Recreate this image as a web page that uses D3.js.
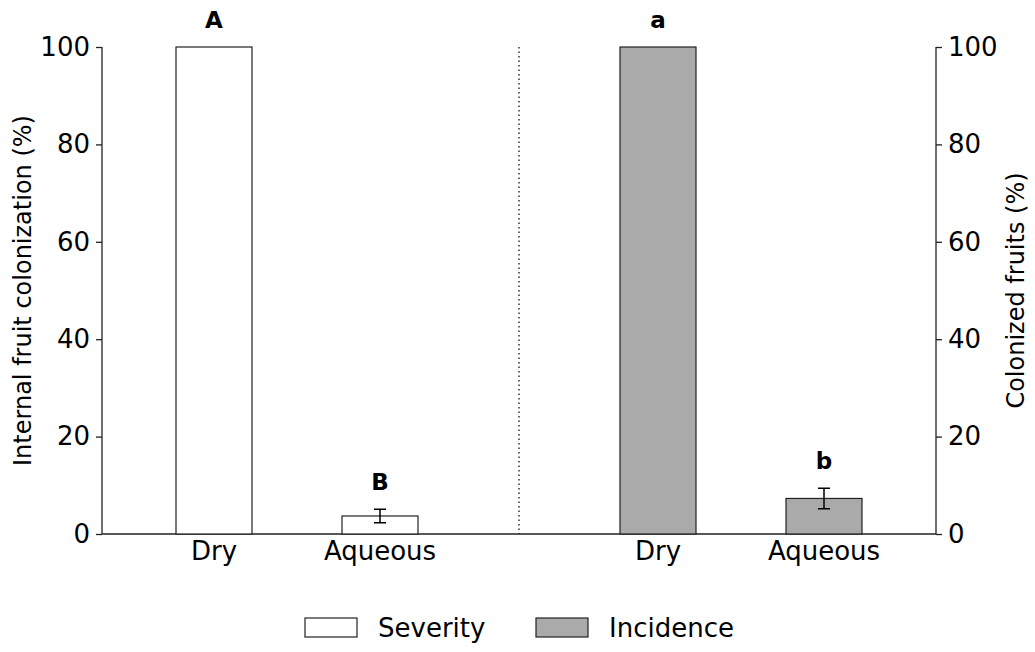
<!DOCTYPE html>
<html>
<head>
<meta charset="utf-8">
<script src="https://cdn.jsdelivr.net/npm/d3@7"></script>
<style>
  body { margin: 0; background: #fff; }
  svg { font-family: "DejaVu Sans", sans-serif; }
</style>
</head>
<body>
<svg id="chart" width="1035" height="652"></svg>
<script>
// data
const treatments = ['Dry', 'Aqueous'];
const groups = ['Severity', 'Incidence'];
const severity = [100, 3.7];
const severityErr = [0, 1.4];
const severityLetters = ['A', 'B'];
const incidence = [100, 7.3];
const incidenceErr = [0, 2.1];
const incidenceLetters = ['a', 'b'];
const yTicks = [0, 20, 40, 60, 80, 100];

const colors = { Severity: '#ffffff', Incidence: '#aaaaaa' };
const ink = '#222';

const svg = d3.select('#chart');
const m = { left: 102, right: 936, top: 47, bottom: 534 };

const y = d3.scaleLinear().domain([0, 100]).range([m.bottom, m.top]);
// each pair of bars sits 195px in from its own axis
const xg = d3.scalePoint().domain(groups).range([m.left + 195, m.right - 195]);
const xi = d3.scalePoint().domain(treatments).range([-83, 83]);
const barW = 76;

const series = [
	{ group: 'Severity', values: severity, err: severityErr, letters: severityLetters },
	{ group: 'Incidence', values: incidence, err: incidenceErr, letters: incidenceLetters }
];

// axes
const yLeft = svg.append('g')
	.attr('transform', `translate(${m.left},0)`)
	.call(d3.axisLeft(y).tickValues(yTicks).tickSize(6).tickPadding(6));
const yRight = svg.append('g')
	.attr('transform', `translate(${m.right},0)`)
	.call(d3.axisRight(y).tickValues(yTicks).tickSize(6).tickPadding(6));
[yLeft, yRight].forEach(ax => {
	ax.select('.domain').attr('d', `M0,${m.top}V${m.bottom}`)
		.attr('stroke', ink).attr('stroke-width', 1.3);
	ax.selectAll('.tick line').attr('stroke', ink).attr('stroke-width', 1.3);
	ax.selectAll('.tick text').attr('font-size', 26).attr('fill', '#000')
		.attr('font-family', '"DejaVu Sans", sans-serif');
});

svg.append('line')
	.attr('x1', m.left).attr('x2', m.right).attr('y1', m.bottom).attr('y2', m.bottom)
	.attr('stroke', ink).attr('stroke-width', 1.3);

// divider between the two panels
const mid = (m.left + m.right) / 2;
svg.append('line')
	.attr('x1', mid).attr('x2', mid)
	.attr('y1', y(100)).attr('y2', m.bottom)
	.attr('stroke', '#222').attr('stroke-width', 1.4)
	.attr('stroke-dasharray', '1.5,3');

series.forEach(s => {
	const g = svg.append('g');
	const cx = t => xg(s.group) + xi(t);
	g.selectAll('rect').data(treatments).join('rect')
		.attr('x', t => cx(t) - barW / 2)
		.attr('width', barW)
		.attr('y', (t, i) => y(s.values[i]))
		.attr('height', (t, i) => m.bottom - y(s.values[i]))
		.attr('fill', colors[s.group])
		.attr('stroke', ink).attr('stroke-width', 1.2);

	treatments.forEach((t, i) => {
		if (s.err[i] > 0) {
			const x0 = cx(t);
			const hi = y(s.values[i] + s.err[i]), lo = y(s.values[i] - s.err[i]);
			g.append('path')
				.attr('d', `M${x0},${hi}V${lo}M${x0 - 6},${hi}H${x0 + 6}M${x0 - 6},${lo}H${x0 + 6}`)
				.attr('stroke', '#000').attr('stroke-width', 1.5).attr('fill', 'none');
		}
		const topVal = s.values[i] + s.err[i];
		g.append('text')
			.attr('x', cx(t)).attr('y', y(topVal) - 19)
			.attr('text-anchor', 'middle')
			.attr('font-size', 23).attr('font-weight', 'bold')
			.text(s.letters[i]);
		g.append('text')
			.attr('x', cx(t)).attr('y', m.bottom + 26)
			.attr('text-anchor', 'middle')
			.attr('font-size', 26)
			.text(t);
	});
});

// axis titles
svg.append('text')
	.attr('transform', `translate(31,${(m.top + m.bottom) / 2}) rotate(-90)`)
	.attr('text-anchor', 'middle').attr('font-size', 24)
	.text('Internal fruit colonization (%)');
svg.append('text')
	.attr('transform', `translate(1024,${(m.top + m.bottom) / 2}) rotate(-90)`)
	.attr('text-anchor', 'middle').attr('font-size', 24)
	.text('Colonized fruits (%)');

// legend
const legend = svg.append('g');
const legendX = [305, 536];
groups.forEach((gname, i) => {
	legend.append('rect')
		.attr('x', legendX[i]).attr('y', 618).attr('width', 52).attr('height', 19)
		.attr('fill', colors[gname]).attr('stroke', ink).attr('stroke-width', 1.2);
	legend.append('text')
		.attr('x', legendX[i] + 73).attr('y', 637)
		.attr('font-size', 26)
		.text(gname);
});
</script>
</body>
</html>
